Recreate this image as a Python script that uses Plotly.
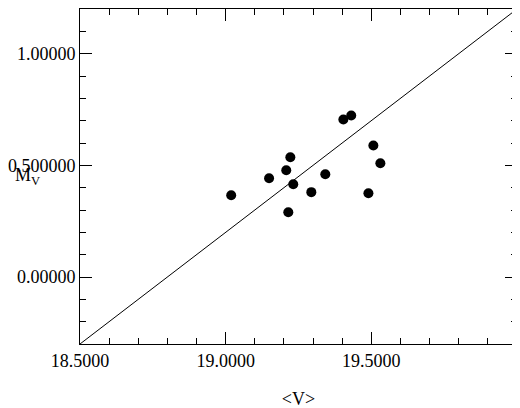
import plotly.graph_objects as go

# data
v_mean = [19.019, 19.149, 19.208, 19.222, 19.232, 19.215, 19.294, 19.342, 19.404, 19.431, 19.507, 19.531, 19.490]
m_v = [0.366, 0.442, 0.478, 0.536, 0.415, 0.290, 0.380, 0.460, 0.705, 0.723, 0.589, 0.509, 0.375]
line_x = [18.5, 20.0]
line_offset = 18.8
line_y = [x - line_offset for x in line_x]

font = dict(family="Liberation Serif, DejaVu Serif, serif", size=18, color="black")

fig = go.Figure()
fig.add_trace(go.Scatter(x=line_x, y=line_y, mode="lines",
                         line=dict(color="black", width=1), showlegend=False))
fig.add_trace(go.Scatter(x=v_mean, y=m_v, mode="markers",
                         marker=dict(color="black", size=10), showlegend=False))

axis = dict(showgrid=False, zeroline=False, showline=True, linecolor="black", linewidth=1,
            mirror="allticks", ticks="inside", ticklen=12, tickcolor="black", tickwidth=1,
            automargin=False, tickmode="linear", dtick=0.5,
            minor=dict(ticks="inside", ticklen=6, tickcolor="black", tickmode="linear", dtick=0.1))
fig.update_xaxes(range=[18.5, 20], tick0=18.5, tickformat="g",
                 title=dict(text="&lt;V&gt;", font=font, standoff=22), **axis)
fig.update_yaxes(range=[-0.3, 1.2], tick0=0, labelalias={"0.5": ".5"}, tickformat="g", **axis)

fig.add_annotation(x=-0.12, y=0.5, xref="paper", yref="paper", showarrow=False,
                   text="M<sub>V</sub>", font=font, xanchor="center")

fig.update_layout(width=520, height=408, plot_bgcolor="white", paper_bgcolor="white",
                  margin=dict(l=72, r=11, t=1, b=72), font=font)
fig.write_html("out.html")
